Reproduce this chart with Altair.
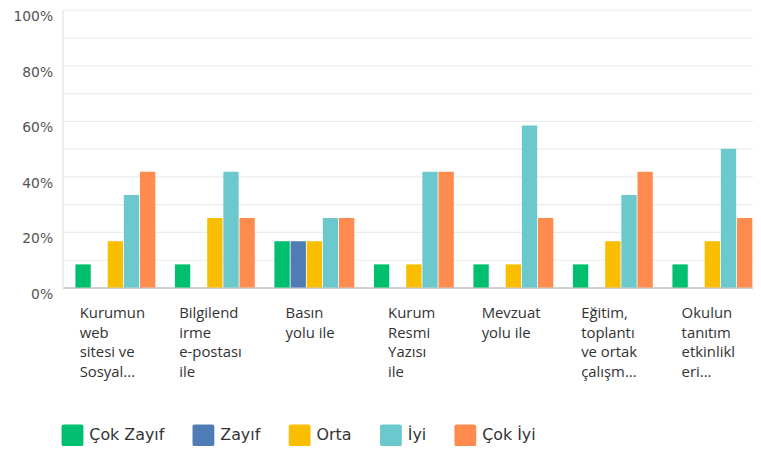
import altair as alt
import pandas as pd

categories = [
    "Kurumun|web|sitesi ve|Sosyal...",
    "Bilgilend|irme|e-postası|ile",
    "Basın|yolu ile",
    "Kurum|Resmi|Yazısı|ile",
    "Mevzuat|yolu ile",
    "Eğitim,|toplantı|ve ortak|çalışm...",
    "Okulun|tanıtım|etkinlikl|eri...",
]
series = ["Çok Zayıf", "Zayıf", "Orta", "İyi", "Çok İyi"]
colors = ["#00BF6F", "#507CB6", "#F9BE00", "#6BC8CD", "#FF8B4F"]

cok_zayif = [0.0833, 0.0833, 0.1667, 0.0833, 0.0833, 0.0833, 0.0833]
zayif     = [0.0,    0.0,    0.1667, 0.0,    0.0,    0.0,    0.0]
orta      = [0.1667, 0.25,   0.1667, 0.0833, 0.0833, 0.1667, 0.1667]
iyi       = [0.3333, 0.4167, 0.25,   0.4167, 0.5833, 0.3333, 0.50]
cok_iyi   = [0.4167, 0.25,   0.25,   0.4167, 0.25,   0.4167, 0.25]

# label block shifts (labels are left-aligned blocks centred under each group)
label_shift = [-36, -36, -29, -26, -32, -32, -31]

values = [cok_zayif, zayif, orta, iyi, cok_iyi]
rows = []
for s, vals in zip(series, values):
    for c, v in zip(categories, vals):
        rows.append({"category": c, "series": s, "value": v})
df = pd.DataFrame(rows)

rounded_square = "M-0.8,-1 H0.8 Q1,-1 1,-0.8 V0.8 Q1,1 0.8,1 H-0.8 Q-1,1 -1,0.8 V-0.8 Q-1,-1 -0.8,-1 Z"

offset_cond = {
    "condition": [{"test": f"datum.value === '{c}'", "value": o}
                  for c, o in zip(categories, label_shift)],
    "value": -32,
}

chart = alt.Chart(df).mark_bar().encode(
    x=alt.X("category:N", sort=categories, title=None,
            scale=alt.Scale(paddingInner=0.197, paddingOuter=0.068, align=0.95),
            axis=alt.Axis(labelExpr="split(datum.label, '|')", labelAlign="left",
                          labelBaseline="top", labelOffset=offset_cond, labelPadding=18,
                          labelLineHeight=20, labelFont="Open Sans", labelFontSize=15,
                          labelColor="#333333", labelAngle=0, labelLimit=0,
                          labelOverlap=False, labelBound=False,
                          ticks=False, grid=False, domainColor="#c4c4c4",
                          domainWidth=1.5)),
    xOffset=alt.XOffset("series:N", sort=series,
                        scale=alt.Scale(paddingInner=0.05)),
    y=alt.Y("value:Q", title=None,
            scale=alt.Scale(domain=[0, 1], nice=False),
            axis=alt.Axis(values=[i / 10 for i in range(11)],
                          labelExpr="round(datum.value*10) % 2 === 0 ? format(datum.value, '.0%') : ''",
                          labelFont="DejaVu Sans", labelFontSize=14, labelColor="#555555",
                          labelOffset=7, labelPadding=10, ticks=False,
                          gridColor="#ececec", gridWidth=1.2,
                          domainColor="#dddddd", domainWidth=1)),
    color=alt.Color("series:N", sort=series,
                    scale=alt.Scale(domain=series, range=colors),
                    legend=alt.Legend(title=None, orient="none", legendX=-1, legendY=418,
                                      direction="horizontal", columns=5,
                                      symbolType=rounded_square, symbolSize=484,
                                      symbolStrokeWidth=0, symbolOpacity=1,
                                      labelFont="DejaVu Sans", labelFontSize=16,
                                      labelColor="#333333", labelOffset=6,
                                      columnPadding=28)),
).properties(
    width=696, height=280,
    autosize=alt.AutoSizeParams(type="none"),
    padding={"left": 55, "top": 0, "right": 0, "bottom": 158},
).configure_view(stroke=None)

chart.save("out.html", embed_options={"renderer": "svg", "actions": False})
